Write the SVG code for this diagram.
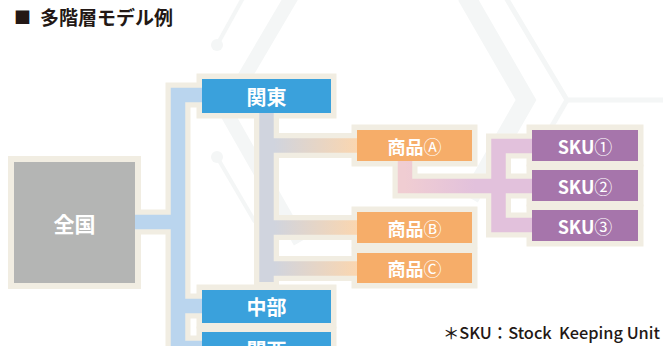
<svg xmlns="http://www.w3.org/2000/svg" width="663" height="346" viewBox="0 0 663 346">
  <style>
    .cream { fill: #f1ede2; }
    .halo { fill: none; stroke: #f1ede2; stroke-width: 25; stroke-linejoin: miter; stroke-linecap: butt; }
    .line { fill: none; stroke-width: 14.5; stroke-linejoin: miter; stroke-linecap: butt; }
    .bg { fill: none; stroke: #f4f6f6; stroke-linejoin: miter; }
    .lbl { fill: #ffffff; font-family: "Noto Sans CJK JP", "Noto Sans", sans-serif; font-weight: bold; text-anchor: middle; dominant-baseline: central; }
    .thin { font-weight: normal; }
    .blue { fill: #3aa1dc; }
    .orange { fill: #f6ad69; }
    .purple { fill: #a675ab; }
  </style>
  <defs>
    <linearGradient id="gGray" gradientUnits="userSpaceOnUse" x1="274" y1="0" x2="357" y2="0">
      <stop offset="0" stop-color="#d0d4de"/>
      <stop offset="1" stop-color="#fad6b0"/>
    </linearGradient>
    <linearGradient id="gPink" gradientUnits="userSpaceOnUse" x1="405" y1="0" x2="475" y2="0">
      <stop offset="0" stop-color="#f0cdd2"/>
      <stop offset="1" stop-color="#e2c1dc"/>
    </linearGradient>
  </defs>
  <rect width="663" height="346" fill="#ffffff"/>

  <g id="background">
    <polyline class="bg" points="292,-4 225,110 300,242" stroke-width="14"/>
    <polyline class="bg" points="466,-4 526,100 470,198" stroke-width="18"/>
    <polyline class="bg" points="505,-4 567,100 663,100" stroke-width="5"/>
    <polyline class="bg" points="567,100 545,138" stroke-width="5"/>
    <polyline class="bg" points="243,-2 217,45" stroke-width="4"/>
    <circle cx="217" cy="45" r="6" fill="#f4f6f6"/>
    <polyline class="bg" points="217,157 255,222" stroke-width="4"/>
    <circle cx="217" cy="157" r="6" fill="#f4f6f6"/>
  </g>

  <text x="14" y="24" font-family="'Noto Sans CJK JP', sans-serif" font-size="17" font-weight="bold" fill="#231815">■</text>
  <text x="40" y="25" font-family="'Noto Sans CJK JP', sans-serif" font-size="19" font-weight="bold" fill="#231815">多階層モデル例</text>

  <g id="node-zenkoku">
    <rect class="cream" x="8" y="156" width="133" height="133"/>
    <rect x="14" y="162" width="121" height="121" fill="#b4b5b4"/>
    <text class="lbl" x="74.5" y="222.5" font-size="21">全国</text>
  </g>
  <g id="node-kanto">
    <rect class="cream" x="196.5" y="73.5" width="140" height="45"/>
    <rect class="blue" x="202" y="79" width="129" height="34"/>
    <text class="lbl" x="266.5" y="96" font-size="20">関東</text>
  </g>
  <g id="node-chubu">
    <rect class="cream" x="196.5" y="284.5" width="140" height="44"/>
    <rect class="blue" x="202" y="290" width="129" height="33"/>
    <text class="lbl" x="266.5" y="306.5" font-size="20">中部</text>
  </g>
  <g id="node-kansai">
    <rect class="cream" x="196.5" y="326.5" width="140" height="45"/>
    <rect class="blue" x="202" y="332" width="129" height="34"/>
    <text class="lbl" x="266.5" y="349" font-size="20">関西</text>
  </g>
  <g id="node-shohinA">
    <rect class="cream" x="351.5" y="124.5" width="126" height="42"/>
    <rect class="orange" x="357" y="130" width="115" height="31"/>
    <text class="lbl" x="414.5" y="145.5" font-size="18">商品<tspan class="thin">Ⓐ</tspan></text>
  </g>
  <g id="node-shohinB">
    <rect class="cream" x="351.5" y="206.5" width="126" height="42"/>
    <rect class="orange" x="357" y="212" width="115" height="31"/>
    <text class="lbl" x="414.5" y="227.5" font-size="18">商品<tspan class="thin">Ⓑ</tspan></text>
  </g>
  <g id="node-shohinC">
    <rect class="cream" x="351.5" y="247.5" width="126" height="41"/>
    <rect class="orange" x="357" y="253" width="115" height="30"/>
    <text class="lbl" x="414.5" y="268" font-size="18">商品<tspan class="thin">Ⓒ</tspan></text>
  </g>
  <g id="node-sku1">
    <rect class="cream" x="526.5" y="124.5" width="117" height="42"/>
    <rect class="purple" x="532" y="130" width="106" height="31"/>
    <text class="lbl" x="585" y="145.5" font-size="18">SKU<tspan class="thin">①</tspan></text>
  </g>
  <g id="node-sku2">
    <rect class="cream" x="526.5" y="164.5" width="117" height="42"/>
    <rect class="purple" x="532" y="170" width="106" height="31"/>
    <text class="lbl" x="585" y="185.5" font-size="18">SKU<tspan class="thin">②</tspan></text>
  </g>
  <g id="node-sku3">
    <rect class="cream" x="526.5" y="204.5" width="117" height="42"/>
    <rect class="purple" x="532" y="210" width="106" height="31"/>
    <text class="lbl" x="585" y="225.5" font-size="18">SKU<tspan class="thin">③</tspan></text>
  </g>

  <g id="connectors">
    <path class="halo" d="M135 222 H178"/>
    <path class="halo" d="M202 95 H178 V352"/>
    <path class="halo" d="M178 306 H202"/>
    <path class="halo" d="M178 348 H202"/>
    <path class="halo" d="M266.5 113 V289"/>
    <path class="halo" d="M266.5 145.5 H357"/>
    <path class="halo" d="M266.5 227.5 H357"/>
    <path class="halo" d="M266.5 268.5 H357"/>
    <path class="halo" d="M405 161 V186 H532"/>
    <path class="halo" d="M532 146 H498.5 V225 H532"/>
    <path class="line" stroke="#bad5ee" d="M135 222 H178"/>
    <path class="line" stroke="#bad5ee" d="M202 95 H178 V352"/>
    <path class="line" stroke="#bad5ee" d="M178 306 H202"/>
    <path class="line" stroke="#bad5ee" d="M178 348 H202"/>
    <path class="line" stroke="url(#gGray)" d="M266.5 145.5 H357"/>
    <path class="line" stroke="url(#gGray)" d="M266.5 227.5 H357"/>
    <path class="line" stroke="url(#gGray)" d="M266.5 268.5 H357"/>
    <path class="line" stroke="#d0d4de" d="M266.5 113 V282"/>
    <path class="line" stroke="url(#gPink)" d="M405 161 V186 H532"/>
    <path class="line" stroke="#e2c1dc" d="M532 146 H498.5 V225 H532"/>
  </g>

  <text x="443" y="339" font-family="'Noto Sans CJK JP', sans-serif" font-size="16" font-weight="500" fill="#231815" textLength="217" lengthAdjust="spacingAndGlyphs" style="white-space: pre">＊SKU：Stock  Keeping Unit</text>
</svg>
